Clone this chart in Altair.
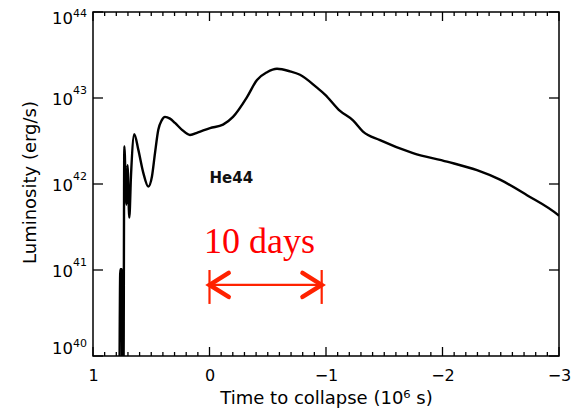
import altair as alt
import pandas as pd

# ---- data ----
time = [0.7725, 0.7657, 0.7536, 0.7485, 0.7382, 0.7313, 0.7124, 0.7039, 0.6884,
        0.6738, 0.6455, 0.6112, 0.5682, 0.5253, 0.4936, 0.4678, 0.4395, 0.4103,
        0.3820, 0.3391, 0.2961, 0.2361, 0.1674, 0.0987, -0.0043, -0.1159, -0.2017,
        -0.3219, -0.4077, -0.4936, -0.5794, -0.6910, -0.7768, -0.9227, -0.9914,
        -1.1202, -1.2318, -1.3176, -1.4635, -1.7468, -2.0386, -2.2961, -2.4936,
        -2.7253, -2.9914, -3.0]
log_lum = [39.8, 41.01, 41.01, 39.8, 39.8, 42.44, 41.76, 42.22, 41.61,
           42.10, 42.58, 42.40, 42.13, 41.97, 42.09, 42.36, 42.63, 42.74,
           42.78, 42.76, 42.71, 42.63, 42.57, 42.60, 42.65, 42.69, 42.78,
           43.01, 43.21, 43.30, 43.34, 43.31, 43.27, 43.12, 43.04,
           42.85, 42.74, 42.61, 42.51, 42.36, 42.26, 42.16, 42.05,
           41.87, 41.64, 41.63]

x_tick_values = [1, 0, -1, -2, -3]
x_minor_values = [round(1 - 0.1 * i, 1) for i in range(41) if i % 10 != 0]
y_tick_values = [1e40, 1e41, 1e42, 1e43, 1e44]
y_tick_base = ["10", "10", "10", "10", "10"]
y_tick_exp = ["40", "41", "42", "43", "44"]

label_text = ["He44"]
label_t = [0.0]
label_L = [1.17e42]

days_text = ["10 days"]
days_t = [0.047]
days_L = [1.58e41]

arrow_t = [0.0, -0.963]
arrow_L = [6.7e40]
bar_L = [1.0e41, 4.03e40]

W, H = 466, 344

curve = pd.DataFrame({"t": time, "L": [10 ** v for v in log_lum]})

xscale = alt.Scale(domain=[-3, 1], reverse=True, nice=False, zero=False)
yscale = alt.Scale(type="log", domain=[1e40, 1e44], nice=False)

x_axis = alt.Axis(values=x_tick_values, format="d", ticks=False, domain=False, grid=False,
                  labelFont="DejaVu Sans", labelFontSize=16, labelPadding=11,
                  labelFlush=False, labelColor="black",
                  title="Time to collapse (10⁶ s)", titleFont="DejaVu Sans",
                  titleFontSize=18, titleFontWeight="normal", titleColor="black",
                  titleY=47, titleBaseline="alphabetic")
y_axis = alt.Axis(values=y_tick_values, labels=False, ticks=False, domain=False,
                  grid=False,
                  title="Luminosity (erg/s)", titleFont="DejaVu Sans", titleFontSize=18,
                  titleFontWeight="normal", titleColor="black", titleX=-63, titleY=170,
                  titleAlign="center", titleBaseline="middle", titleAngle=270)

line = alt.Chart(curve).mark_line(color="black", strokeWidth=2.4, clip=True,
                                  interpolate="monotone").encode(
    x=alt.X("t:Q", scale=xscale, axis=x_axis),
    y=alt.Y("L:Q", scale=yscale, axis=y_axis),
)

xmaj = pd.DataFrame({"t": x_tick_values})
xmin = pd.DataFrame({"t": x_minor_values})
ymaj = pd.DataFrame({"L": y_tick_values, "base": y_tick_base, "exp": y_tick_exp})

tick_style = dict(color="black", strokeWidth=1.3)
ticks = [
    alt.Chart(xmaj).mark_rule(**tick_style).encode(x="t:Q", y=alt.value(H), y2=alt.value(H - 9)),
    alt.Chart(xmaj).mark_rule(**tick_style).encode(x="t:Q", y=alt.value(0), y2=alt.value(9)),
    alt.Chart(xmin).mark_rule(**tick_style).encode(x="t:Q", y=alt.value(H), y2=alt.value(H - 4)),
    alt.Chart(xmin).mark_rule(**tick_style).encode(x="t:Q", y=alt.value(0), y2=alt.value(4)),
    alt.Chart(ymaj).mark_rule(**tick_style).encode(y="L:Q", x=alt.value(0), x2=alt.value(10)),
    alt.Chart(ymaj).mark_rule(**tick_style).encode(y="L:Q", x=alt.value(W - 10), x2=alt.value(W)),
]

# y tick labels: "10" with raised exponent; end labels kept inside the frame as in the reference
ylabels = []
groups = [(ymaj.iloc[[0]], -7, -12), (ymaj.iloc[1:4], 1.5, -7), (ymaj.iloc[[4]], 7, 2)]
for sub, dy_base, dy_exp in groups:
    ylabels.append(alt.Chart(sub).mark_text(
        font="DejaVu Sans", fontSize=16.5, color="black", align="right", baseline="middle",
        dx=-20, dy=dy_base
    ).encode(y="L:Q", x=alt.value(0), text="base:N"))
    ylabels.append(alt.Chart(sub).mark_text(
        font="DejaVu Sans", fontSize=11, color="black", align="left", baseline="middle",
        dx=-20, dy=dy_exp
    ).encode(y="L:Q", x=alt.value(0), text="exp:N"))

he = alt.Chart(pd.DataFrame({"t": label_t, "L": label_L, "txt": label_text})).mark_text(
    font="DejaVu Sans", fontSize=15, fontWeight="bold", color="#111111", align="left",
    baseline="middle"
).encode(x="t:Q", y="L:Q", text="txt:N")

days = alt.Chart(pd.DataFrame({"t": days_t, "L": days_L, "txt": days_text})).mark_text(
    font="Liberation Serif", fontSize=36, color="#ff0000", align="left", baseline="alphabetic"
).encode(x="t:Q", y="L:Q", text="txt:N")

red = "#ff2200"
arrow_line = alt.Chart(pd.DataFrame({"t": [arrow_t[0]], "t2": [arrow_t[1]], "L": arrow_L})).mark_rule(
    color=red, strokeWidth=2.2
).encode(x="t:Q", x2="t2:Q", y="L:Q")

bars = alt.Chart(pd.DataFrame({"t": arrow_t, "L": [bar_L[0]] * 2, "L2": [bar_L[1]] * 2})).mark_rule(
    color=red, strokeWidth=2.2
).encode(x="t:Q", y="L:Q", y2="L2:Q")

head_left = alt.Chart(pd.DataFrame({"t": [arrow_t[0]], "L": arrow_L})).mark_point(
    shape="M1.6,-1 L0,0 L1.6,1", size=576, filled=False, stroke=red, strokeWidth=4.5,
    strokeCap="round", strokeJoin="miter", opacity=1
).encode(x="t:Q", y="L:Q")

head_right = alt.Chart(pd.DataFrame({"t": [arrow_t[1]], "L": arrow_L})).mark_point(
    shape="M-1.6,-1 L0,0 L-1.6,1", size=576, filled=False, stroke=red, strokeWidth=4.5,
    strokeCap="round", strokeJoin="miter", opacity=1
).encode(x="t:Q", y="L:Q")

chart = alt.layer(line, *ticks, *ylabels, he, days, arrow_line, bars,
                  head_left, head_right).properties(
    width=W, height=H,
    padding={"left": 93, "top": 12, "right": 22, "bottom": 56},
    autosize=alt.AutoSizeParams(type="none"),
    background="white",
).configure_view(stroke="black", strokeWidth=1.5)

chart.save("out.html", embed_options={"renderer": "svg", "actions": False})
